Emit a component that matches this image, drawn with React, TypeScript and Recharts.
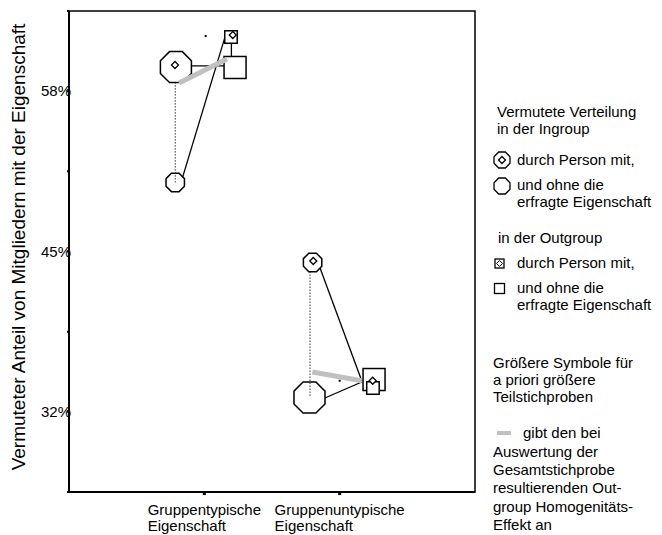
import React from "react";
import { ScatterChart, Scatter, XAxis, YAxis, ReferenceArea } from "recharts";

const FONT = "'Liberation Sans', Arial, sans-serif";

const CATEGORIES = ["Gruppentypische Eigenschaft", "Gruppenuntypische Eigenschaft"];
const CATEGORY_X = [1, 2];

const Y_TICKS = [25.5, 32, 38.5, 45, 51.5, 58, 64.5];
const Y_LABELED = [32, 45, 58];
const Y_DOMAIN = [25.5, 64.5];
const X_DOMAIN = [0, 3];

// Ingroup (octagons): estimate by persons with / without the trait
const IN_MIT_X = [0.79, 1.8];
const IN_MIT = [59.95, 44.11];
const IN_MIT_LARGE = [true, false];
const IN_OHNE_X = [0.785, 1.777];
const IN_OHNE = [50.6, 33.16];
const IN_OHNE_LARGE = [false, true];

// Outgroup (squares)
const OUT_MIT_X = [1.197, 2.246];
const OUT_MIT = [62.39, 33.93];
const OUT_MIT_LARGE = [false, false];
const OUT_OHNE_X = [1.227, 2.254];
const OUT_OHNE = [59.92, 34.62];
const OUT_OHNE_LARGE = [true, true];

// inner diamonds of the "mit" symbols
const MIT_MARK_X = [0.783, 1.21, 1.805, 2.244];
const MIT_MARK = [60.12, 62.55, 44.23, 34.52];

// overall sample means (tiny dots)
const TOTAL_X = [1.01, 2.0];
const TOTAL = [62.47, 34.52];

// connecting lines [x1, y1, x2, y2]
const SOLID_LINKS = [
  [0.79, 60.05, 1.227, 60.05],
  [0.828, 50.6, 1.153, 62.4],
  [1.2, 62.39, 1.2, 59.92],
  [1.84, 44.11, 2.163, 34.52],
  [1.84, 32.88, 2.163, 34.42],
];
const DOTTED_LINKS = [
  [0.785, 59.95, 0.785, 50.6],
  [1.781, 44.11, 1.781, 33.16],
];
// Outgroup homogeneity effect of the whole sample
const EFFECT_LINKS = [
  [0.813, 58.66, 1.167, 60.61],
  [1.798, 35.23, 2.163, 34.52],
];

const pts = (xs: number[], ys: number[], large?: boolean[]) =>
  xs.map((x, i) => ({ x, y: ys[i], large: large ? large[i] : false }));
const seg = (l: number[]) => [
  { x: l[0], y: l[1] },
  { x: l[2], y: l[3] },
];

const octagonPath = (cx: number, cy: number, half: number) => {
  const r = half / Math.cos(Math.PI / 8);
  const p: string[] = [];
  for (let k = 0; k < 8; k++) {
    const a = Math.PI / 8 + (k * Math.PI) / 4;
    p.push(`${(cx + r * Math.cos(a)).toFixed(2)},${(cy + r * Math.sin(a)).toFixed(2)}`);
  }
  return "M" + p.join("L") + "Z";
};

const Octagon = (props: any) => {
  const { cx, cy } = props;
  const large = props.payload?.large ?? props.large;
  return <path d={octagonPath(cx, cy, large ? 15.5 : 9.2)} fill="#fff" stroke="#000" strokeWidth={1.5} />;
};

const Square = (props: any) => {
  const { cx, cy } = props;
  const large = props.payload?.large ?? props.large;
  const s = large ? 22 : 12.5;
  return <rect x={cx - s / 2} y={cy - s / 2} width={s} height={s} fill="#fff" stroke="#000" strokeWidth={1.5} />;
};

const Diamond = ({ cx, cy }: any) => (
  <path d={`M${cx},${cy - 3.5}L${cx + 3.5},${cy}L${cx},${cy + 3.5}L${cx - 3.5},${cy}Z`} fill="#fff" stroke="#000" strokeWidth={1.3} />
);

const Dot = ({ cx, cy }: any) => <rect x={cx - 1} y={cy - 1} width={2} height={2} fill="#000" />;

const Nothing = () => <g />;

let ctx: CanvasRenderingContext2D | null = null;
const textWidth = (s: string, size: number) => {
  if (!ctx) ctx = document.createElement("canvas").getContext("2d");
  if (!ctx) return s.length * size * 0.5;
  ctx.font = `${size}px 'Liberation Sans'`;
  return ctx.measureText(s).width;
};

const XTick = (props: any) => {
  const { x, y, payload } = props;
  const idx = CATEGORY_X.indexOf(payload.value);
  if (idx < 0) return <g />;
  const lines = CATEGORIES[idx].split(" ");
  const left = x - textWidth(lines[0], 15) / 2;
  return (
    <text x={left} y={y} fontSize={15} fontFamily={FONT} fill="#000" textAnchor="start">
      {lines.map((l, i) => (
        <tspan key={i} x={left} y={y + 20 + i * 16}>
          {l}
        </tspan>
      ))}
    </text>
  );
};

const YTick = (props: any) => {
  const { x, y, payload } = props;
  if (!Y_LABELED.includes(payload.value)) return <g />;
  return (
    <text x={x + 4} y={y + 5} fontSize={15} fontFamily={FONT} fill="#000" textAnchor="end">
      {payload.value}%
    </text>
  );
};

const T = ({ x, y, children }: any) => (
  <text x={x} y={y} fontSize={15} fontFamily={FONT} fill="#000">
    {children}
  </text>
);

const Legend = () => (
  <svg width={662} height={535} style={{ position: "absolute", left: 0, top: 0, pointerEvents: "none" }}>
    <text transform="translate(25,247) rotate(-90)" fontSize={19} fontFamily={FONT} textAnchor="middle" fill="#000">
      Vermuteter Anteil von Mitgliedern mit der Eigenschaft
    </text>
    <T x={497} y={117}>Vermutete Verteilung</T>
    <T x={497} y={134}>in der Ingroup</T>
    <path d={octagonPath(502, 160, 8)} fill="#fff" stroke="#000" strokeWidth={1.3} />
    <Diamond cx={502} cy={160} />
    <T x={517} y={165}>durch Person mit,</T>
    <path d={octagonPath(502, 186, 8)} fill="#fff" stroke="#000" strokeWidth={1.3} />
    <T x={517} y={190}>und ohne die</T>
    <T x={517} y={207}>erfragte Eigenschaft</T>
    <T x={498} y={243}>in der Outgroup</T>
    <rect x={495} y={259} width={9} height={9} fill="#fff" stroke="#000" strokeWidth={1.3} />
    <path d="M499.5,260.5L502.5,263.5L499.5,266.5L496.5,263.5Z" fill="#fff" stroke="#000" strokeWidth={1} />
    <T x={517} y={268}>durch Person mit,</T>
    <rect x={494.5} y={283.5} width={10} height={10} fill="#fff" stroke="#000" strokeWidth={1.3} />
    <T x={517} y={293}>und ohne die</T>
    <T x={517} y={310}>erfragte Eigenschaft</T>
    <T x={493} y={368}>Größere Symbole für</T>
    <T x={493} y={385}>a priori größere</T>
    <T x={493} y={402}>Teilstichproben</T>
    <line x1={497} y1={433} x2={511} y2={433} stroke="#c0c0c0" strokeWidth={4} />
    <T x={523} y={438}>gibt den bei</T>
    <T x={493} y={457}>Auswertung der</T>
    <T x={493} y={475}>Gesamtstichprobe</T>
    <T x={493} y={493}>resultierenden Out-</T>
    <T x={493} y={512}>group Homogenitäts-</T>
    <T x={493} y={530}>Effekt an</T>
  </svg>
);

export default function App() {
  return (
    <div style={{ position: "absolute", left: 0, top: 0, width: 662, height: 535, background: "#fff", overflow: "hidden" }}>
      <ScatterChart width={662} height={535} margin={{ top: 11, right: 187, bottom: 0, left: 0 }}>
        <XAxis
          type="number"
          dataKey="x"
          domain={X_DOMAIN}
          ticks={CATEGORY_X}
          interval={0}
          allowDataOverflow
          height={43}
          tickSize={3}
          tickMargin={0}
          axisLine={{ stroke: "#000", strokeWidth: 2 }}
          tickLine={{ stroke: "#000", strokeWidth: 3 }}
          tick={(p: any) => <XTick {...p} />}
        />
        <YAxis
          type="number"
          dataKey="y"
          domain={Y_DOMAIN}
          ticks={Y_TICKS}
          interval={0}
          allowDataOverflow
          width={69}
          tickSize={2}
          tickMargin={0}
          axisLine={{ stroke: "#000", strokeWidth: 2 }}
          tickLine={{ stroke: "#000", strokeWidth: 2 }}
          tick={(p: any) => <YTick {...p} />}
        />
        <ReferenceArea x1={X_DOMAIN[0]} x2={X_DOMAIN[1]} y1={Y_DOMAIN[0]} y2={Y_DOMAIN[1]} fill="none" fillOpacity={0} stroke="#000" strokeWidth={1.5} />
        {SOLID_LINKS.map((l, i) => (
          <Scatter key={`s${i}`} data={seg(l)} line={{ stroke: "#000", strokeWidth: 1.3 }} lineType="joint" shape={Nothing} isAnimationActive={false} />
        ))}
        <Scatter data={pts(OUT_OHNE_X, OUT_OHNE, OUT_OHNE_LARGE)} shape={Square} isAnimationActive={false} />
        <Scatter data={pts(OUT_MIT_X, OUT_MIT, OUT_MIT_LARGE)} shape={Square} isAnimationActive={false} />
        <Scatter data={pts(IN_OHNE_X, IN_OHNE, IN_OHNE_LARGE)} shape={Octagon} isAnimationActive={false} />
        {DOTTED_LINKS.map((l, i) => (
          <Scatter key={`d${i}`} data={seg(l)} line={{ stroke: "#333", strokeWidth: 1, strokeDasharray: "1.5 1.5" }} lineType="joint" shape={Nothing} isAnimationActive={false} />
        ))}
        <Scatter data={pts(IN_MIT_X, IN_MIT, IN_MIT_LARGE)} shape={Octagon} isAnimationActive={false} />
        <Scatter data={pts(MIT_MARK_X, MIT_MARK)} shape={Diamond} isAnimationActive={false} />
        <Scatter data={pts(TOTAL_X, TOTAL)} shape={Dot} isAnimationActive={false} />
        {EFFECT_LINKS.map((l, i) => (
          <Scatter key={`e${i}`} data={seg(l)} line={{ stroke: "#c0c0c0", strokeWidth: 5 }} lineType="joint" shape={Nothing} isAnimationActive={false} />
        ))}
      </ScatterChart>
      <Legend />
    </div>
  );
}
